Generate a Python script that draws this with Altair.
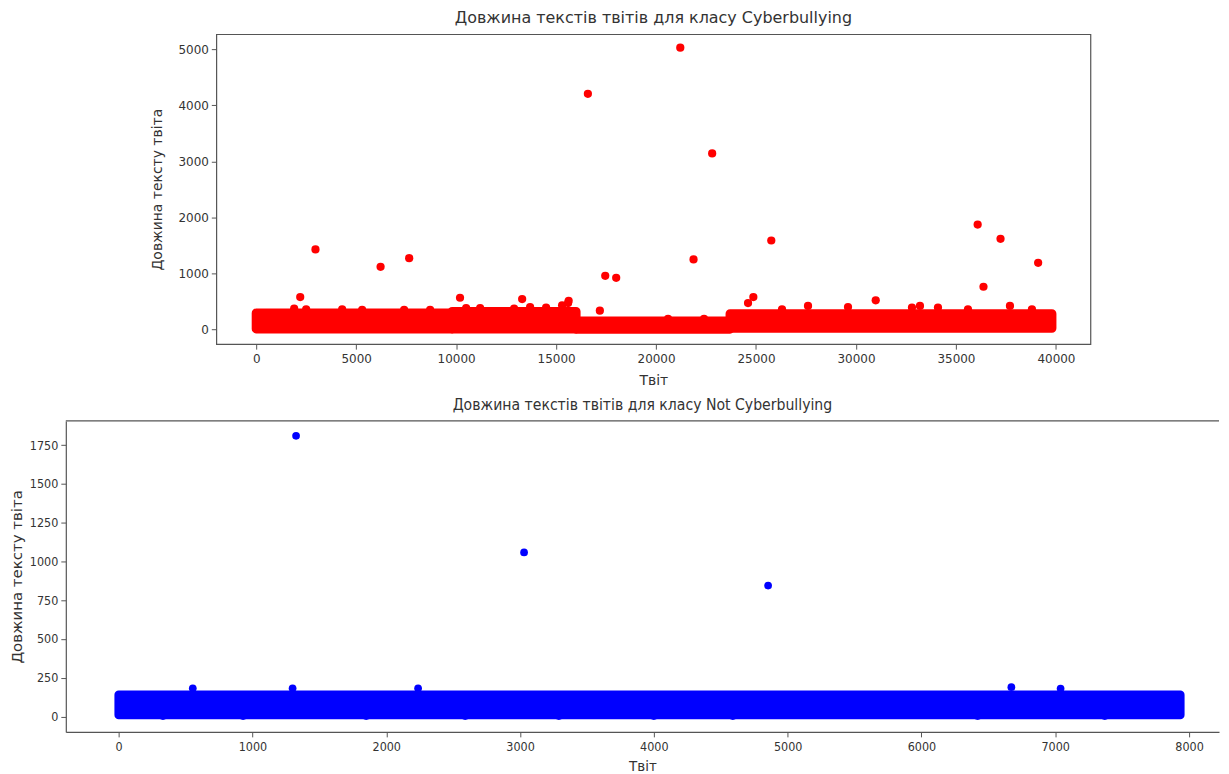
import altair as alt
import pandas as pd

# ---------- Cyberbullying (top) ----------
cb_x = [21211, 16590, 22806, 2966, 6222, 7652, 2203, 10195, 17458, 18006,
        21875, 25763, 36085, 37229, 39110, 36376, 17189, 13302, 15628, 24866, 30986]
cb_y = [5027, 4203, 3140, 1427, 1117, 1272, 578, 566, 957, 922,
        1249, 1587, 1872, 1616, 1189, 762, 335, 543, 512, 578, 520]
# small points just above the dense band
cb_edge_x = [1900, 2500, 4300, 5300, 7400, 8700, 10500, 11200, 12900, 13700, 14500, 15300, 15600,
             20600, 22400,
             24600, 26300, 27600, 29600, 32800, 33200, 34100, 35600, 37700, 38800]
cb_edge_y = [370, 360, 360, 350, 350, 350, 380, 380, 370, 400, 390, 430, 470,
             190, 190,
             470, 360, 420, 400, 390, 420, 390, 360, 420, 360]
# dense band of tweets (index ranges and length ranges)
cb_band_start = [0, 9800, 16000, 23700]
cb_band_end = [9800, 16000, 23700, 39800]
cb_band_low = [10, 10, 5, 20]
cb_band_high = [295, 320, 150, 280]

# ---------- Not Cyberbullying (bottom) ----------
nc_x = [1326, 3030, 4854]
nc_y = [1810, 1058, 844]
nc_edge_x = [554, 1300, 2238, 6672, 7040, 331, 930, 1850, 2590, 3290, 4000, 4590, 6420, 7370]
nc_edge_y = [182, 182, 182, 189, 180, 3, 3, 3, 3, 3, 3, 3, 3, 3]
nc_band_start = [0]
nc_band_end = [7935]
nc_band_low = [10]
nc_band_high = [141]

cb_ticks_x = [0, 5000, 10000, 15000, 20000, 25000, 30000, 35000, 40000]
cb_ticks_y = [0, 1000, 2000, 3000, 4000, 5000]
nc_ticks_x = [0, 1000, 2000, 3000, 4000, 5000, 6000, 7000, 8000]
nc_ticks_y = [0, 250, 500, 750, 1000, 1250, 1500, 1750]

title_top = "Довжина текстів твітів для класу Cyberbullying"
title_bot = "Довжина текстів твітів для класу Not Cyberbullying"
xlab = "Твіт"
ylab = "Довжина тексту твіта"

FONT = "DejaVu Sans"
CFONT = "DejaVu Sans Condensed, Liberation Sans Narrow, Liberation Sans"
TXT = "#333333"
FRAME = "#555555"

cb_pts = pd.DataFrame({"x": cb_x + cb_edge_x, "y": cb_y + cb_edge_y})
cb_band = pd.DataFrame({"x": cb_band_start, "x2": cb_band_end, "y": cb_band_low, "y2": cb_band_high})
nc_pts = pd.DataFrame({"x": nc_x + nc_edge_x, "y": nc_y + nc_edge_y})
nc_band = pd.DataFrame({"x": nc_band_start, "x2": nc_band_end, "y": nc_band_low, "y2": nc_band_high})


def axis(vals, lfont, lsize, tfont, tsize, lpad, tpad, domain=False):
    return alt.Axis(values=vals, format="d", grid=False, domain=domain,
                    domainColor=FRAME, domainWidth=1.2, tickColor=FRAME, tickSize=5,
                    labelPadding=lpad,
                    labelFont=lfont, labelFontSize=lsize, labelColor=TXT,
                    titleFont=tfont, titleFontSize=tsize, titleColor=TXT,
                    titleFontWeight="normal", titlePadding=tpad)


# top panel
cx = alt.Scale(domain=[-1994, 41725], nice=False, zero=False)
cy = alt.Scale(domain=[-262, 5267], nice=False, zero=False)
top_band = alt.Chart(cb_band).mark_rect(color="#ff0000", stroke="#ff0000", strokeWidth=9,
                                         strokeJoin="round").encode(
    x=alt.X("x:Q", scale=cx, title=xlab, axis=axis(cb_ticks_x, FONT, 12, FONT, 14, 4, 9)),
    x2="x2:Q",
    y=alt.Y("y:Q", scale=cy, title=ylab, axis=axis(cb_ticks_y, FONT, 12, FONT, 14, 3, 13)),
    y2="y2:Q",
)
top_pts = alt.Chart(cb_pts).mark_circle(color="#ff0000", size=68, opacity=1).encode(
    x=alt.X("x:Q", scale=cx), y=alt.Y("y:Q", scale=cy))
top = alt.layer(top_band, top_pts).properties(
    width=877, height=311,
    title=alt.Title(title_top, font=FONT, fontSize=16, fontWeight="normal", color=TXT,
                    anchor="middle", frame="group", offset=8),
    view=alt.ViewBackground(stroke=FRAME, strokeWidth=1.2),
)

spacer = alt.Chart(pd.DataFrame({"a": [0]})).mark_point(opacity=0).encode(
    x=alt.value(0), y=alt.value(0)).properties(
    width=83, height=10, view=alt.ViewBackground(stroke="transparent"))

# bottom panel
nx = alt.Scale(domain=[-395, 8224], nice=False, zero=False)
ny = alt.Scale(domain=[-99, 1906], nice=False, zero=False)
bot_band = alt.Chart(nc_band).mark_rect(color="#0000ff", stroke="#0000ff", strokeWidth=8.5,
                                         strokeJoin="round").encode(
    x=alt.X("x:Q", scale=nx, title=xlab, axis=axis(nc_ticks_x, CFONT, 12.5, CFONT, 15, 4, 5, True)),
    x2="x2:Q",
    y=alt.Y("y:Q", scale=ny, title=ylab, axis=axis(nc_ticks_y, CFONT, 12.5, FONT, 15, 3, 5, True)),
    y2="y2:Q",
)
bot_pts = alt.Chart(nc_pts).mark_circle(color="#0000ff", size=60, opacity=1).encode(
    x=alt.X("x:Q", scale=nx), y=alt.Y("y:Q", scale=ny))
bot_top_line = alt.Chart(pd.DataFrame({"a": [0]})).mark_rule(color=FRAME, strokeWidth=1.2).encode(
    x=alt.value(0), x2=alt.value(1157), y=alt.value(0))
bot = alt.layer(bot_band, bot_pts, bot_top_line).properties(
    width=1157, height=312,
    title=alt.Title(title_bot, font=CFONT, fontSize=15.7, fontWeight="normal", color=TXT,
                    anchor="middle", frame="group", offset=7),
    view=alt.ViewBackground(stroke="transparent"),
)

chart = alt.vconcat(
    alt.hconcat(spacer, top, spacing=0),
    bot,
    spacing=8,
).properties(padding=0).configure_view(stroke=FRAME).configure(background="white")

chart.save("out.html", embed_options={"renderer": "svg", "actions": False})
